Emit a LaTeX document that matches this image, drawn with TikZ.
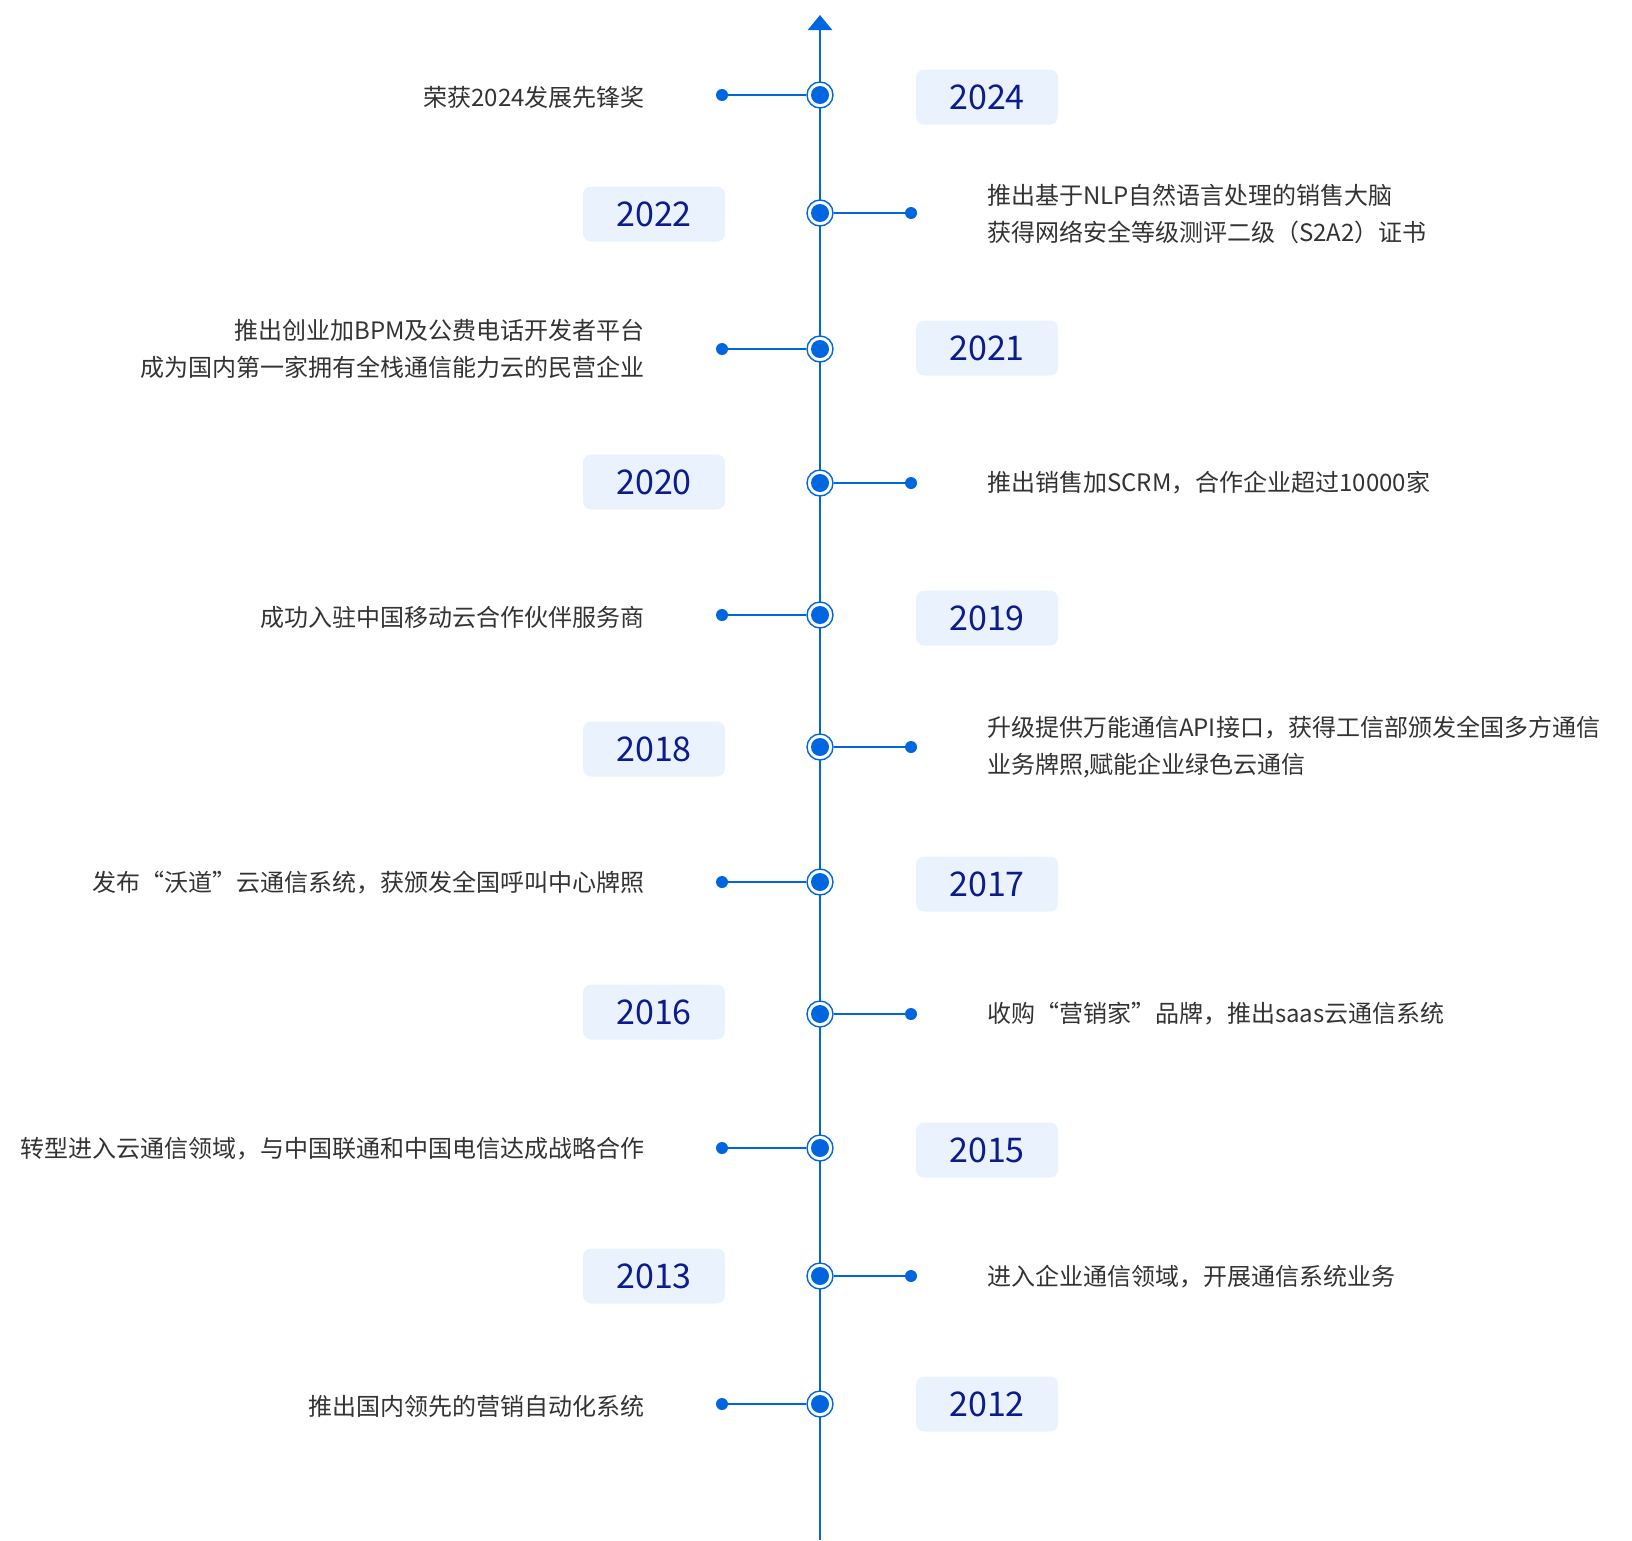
\documentclass[tikz,border=0pt]{standalone}
\usepackage{fontspec}
\setmainfont{Noto Sans CJK SC}
\usepackage{tikz}
\usetikzlibrary{arrows.meta,shapes,positioning}
\usepackage{xcolor}
\definecolor{tlblue}{RGB}{0,102,224}
\definecolor{tlnavy}{RGB}{12,28,140}
\definecolor{tlboxfill}{RGB}{234,243,253}
\definecolor{tltext}{RGB}{51,51,51}
\tikzstyle{timeaxis} = [line width=2.3pt,-{Triangle[length=15pt,width=24pt]},color=tlblue]
\tikzstyle{branch} = [line width=1.5pt,color=tlblue]

\begin{document}
\begin{tikzpicture}[x=1pt, y=-1pt,
    milestone/.style={circle, draw=tlblue, line width=1.4pt, fill=white, minimum size=26pt, inner sep=0pt,
      path picture={\fill[tlblue] (path picture bounding box.center) circle (9pt);}},
    enddot/.style={circle, fill=tlblue, minimum size=12pt, inner sep=0pt},
    yearbox/.style={rectangle, rounded corners=8pt, fill=tlboxfill, minimum width=142pt, minimum height=55pt, text=tlnavy, font=\fontsize{34}{40}\selectfont},
    eventl/.style={anchor=east, align=right, inner sep=0pt, text=tltext, font=\fontsize{24}{37.5}\selectfont},
    eventr/.style={anchor=west, align=left, inner sep=0pt, text=tltext, font=\fontsize{24}{37.5}\selectfont}]

\useasboundingbox (0,0) rectangle (1632,1540);

% Time axis
\coordinate (axistop) at (820,15);
\coordinate (axisbottom) at (820,1540);
\draw[timeaxis] (axisbottom) -- (axistop);

% 2024
\node[milestone] (m2024) at (820,95) {};
\node[enddot] (d2024) at (722,95) {};
\node[yearbox] (y2024) at (987,97) {2024};
\node[eventl] (e2024) at (645,97) {荣获2024发展先锋奖};
\draw[branch] (d2024) -- (m2024);

% 2022
\node[milestone] (m2022) at (820,213) {};
\node[enddot] (d2022) at (911,213) {};
\node[yearbox] (y2022) at (654,214) {2022};
\node[eventr] (e2022) at (987,214) {推出基于NLP自然语言处理的销售大脑\\获得网络安全等级测评二级（S2A2）证书};
\draw[branch] (m2022) -- (d2022);

% 2021
\node[milestone] (m2021) at (820,349) {};
\node[enddot] (d2021) at (722,349) {};
\node[yearbox] (y2021) at (987,348) {2021};
\node[eventl] (e2021) at (645,349) {推出创业加BPM及公费电话开发者平台\\成为国内第一家拥有全栈通信能力云的民营企业};
\draw[branch] (d2021) -- (m2021);

% 2020
\node[milestone] (m2020) at (820,483) {};
\node[enddot] (d2020) at (911,483) {};
\node[yearbox] (y2020) at (654,482) {2020};
\node[eventr] (e2020) at (987,483) {推出销售加SCRM，合作企业超过10000家};
\draw[branch] (m2020) -- (d2020);

% 2019
\node[milestone] (m2019) at (820,615) {};
\node[enddot] (d2019) at (722,615) {};
\node[yearbox] (y2019) at (987,618) {2019};
\node[eventl] (e2019) at (645,617) {成功入驻中国移动云合作伙伴服务商};
\draw[branch] (d2019) -- (m2019);

% 2018
\node[milestone] (m2018) at (820,747) {};
\node[enddot] (d2018) at (911,747) {};
\node[yearbox] (y2018) at (654,749) {2018};
\node[eventr] (e2018) at (987,747) {升级提供万能通信API接口，获得工信部颁发全国多方通信\\业务牌照,赋能企业绿色云通信};
\draw[branch] (m2018) -- (d2018);

% 2017
\node[milestone] (m2017) at (820,882) {};
\node[enddot] (d2017) at (722,882) {};
\node[yearbox] (y2017) at (987,884) {2017};
\node[eventl] (e2017) at (645,883) {发布“沃道”云通信系统，获颁发全国呼叫中心牌照};
\draw[branch] (d2017) -- (m2017);

% 2016
\node[milestone] (m2016) at (820,1014) {};
\node[enddot] (d2016) at (911,1014) {};
\node[yearbox] (y2016) at (654,1012) {2016};
\node[eventr] (e2016) at (987,1014) {收购“营销家”品牌，推出saas云通信系统};
\draw[branch] (m2016) -- (d2016);

% 2015
\node[milestone] (m2015) at (820,1148) {};
\node[enddot] (d2015) at (722,1148) {};
\node[yearbox] (y2015) at (987,1150) {2015};
\node[eventl] (e2015) at (645,1149) {转型进入云通信领域，与中国联通和中国电信达成战略合作};
\draw[branch] (d2015) -- (m2015);

% 2013
\node[milestone] (m2013) at (820,1276) {};
\node[enddot] (d2013) at (911,1276) {};
\node[yearbox] (y2013) at (654,1276) {2013};
\node[eventr] (e2013) at (987,1277) {进入企业通信领域，开展通信系统业务};
\draw[branch] (m2013) -- (d2013);

% 2012
\node[milestone] (m2012) at (820,1404) {};
\node[enddot] (d2012) at (722,1404) {};
\node[yearbox] (y2012) at (987,1404) {2012};
\node[eventl] (e2012) at (645,1406) {推出国内领先的营销自动化系统};
\draw[branch] (d2012) -- (m2012);

\end{tikzpicture}
\end{document}
